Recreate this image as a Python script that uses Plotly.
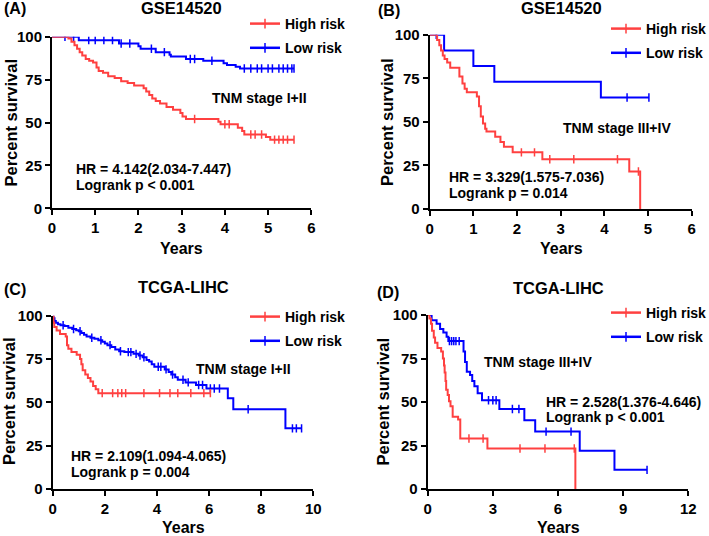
import plotly.graph_objects as go

W, H = 709, 536
RED = '#FF4040'
BLUE = '#0000FF'
FONT = 'Liberation Sans, Arial, sans-serif'

# ---------------- data (Kaplan-Meier steps: time in years, percent survival) ----------------
A_high_t = [0, 0.38, 0.45, 0.52, 0.58, 0.64, 0.70, 0.78, 0.86, 0.95, 1.03, 1.08, 1.18, 1.30, 1.45, 1.60, 1.75, 1.90,
            2.12, 2.18, 2.25, 2.32, 2.40, 2.50, 2.65, 2.80, 2.97, 3.02, 3.10, 3.85, 3.90, 4.30, 4.40, 4.45, 4.95, 5.05, 5.60]
A_high_s = [100, 99, 97, 95, 93, 91, 89, 87, 86, 85, 82, 80, 79, 77, 76, 74, 73, 71.5,
            70, 68, 66, 64, 62.5, 61, 59, 57.5, 55.5, 53.5, 52, 50.5, 49, 47, 45, 43, 41.5, 40, 40]
A_high_c = [3.3, 4.0, 4.1, 4.6, 4.7, 4.85, 5.15, 5.25, 5.35, 5.45, 5.6]

A_low_t = [0, 0.62, 1.55, 2.00, 2.05, 2.40, 2.72, 2.75, 3.10, 3.50, 3.97, 4.05, 4.25, 4.35, 5.60]
A_low_s = [100, 98, 96, 94.5, 93, 91, 89.5, 88.5, 87, 86, 84.5, 83.5, 82.5, 81.5, 81.5]
A_low_c = [0.3, 0.5, 0.85, 1.0, 1.2, 1.4, 1.6, 1.8, 2.3, 2.6, 3.2, 3.3, 3.7, 4.45, 4.6, 4.75, 4.85,
           5.0, 5.1, 5.25, 5.35, 5.45, 5.55, 5.6]

B_high_t = [0, 0.17, 0.22, 0.26, 0.30, 0.34, 0.40, 0.47, 0.68, 0.75, 0.80, 0.85, 1.08, 1.13, 1.17, 1.22, 1.27,
            1.30, 1.50, 1.62, 1.70, 1.90, 2.58, 4.57, 4.82]
B_high_s = [100, 97, 94, 91, 88, 86, 84, 81, 76, 72, 69, 67, 64.5, 59, 53, 49, 46,
            44.5, 41.5, 38.5, 35.7, 32.5, 28.5, 21.5, 0]
B_high_c = [2.1, 2.4, 2.75, 3.3, 4.3, 4.78]

B_low_t = [0, 0.33, 1.00, 1.48, 3.92, 5.02]
B_low_s = [100, 91, 82, 73, 64, 64]
B_low_c = [0.15, 4.52, 5.02]

C_high_t = [0, 0.03, 0.06, 0.15, 0.28, 0.50, 0.55, 0.60, 0.72, 0.92, 1.05, 1.10, 1.15, 1.25, 1.35, 1.45, 1.55,
            1.65, 1.75, 6.05]
C_high_s = [100, 96, 93.5, 91.5, 89.5, 88, 83, 81, 79, 77.5, 75, 72, 68.5, 66, 64, 62, 59.5,
            57.5, 55.3, 55.3]
C_high_c = [1.9, 2.3, 2.5, 2.65, 2.8, 3.5, 4.1, 4.5, 4.8, 5.3, 5.8, 6.05]

C_low_t = [0, 0.03, 0.07, 0.12, 0.20, 0.30, 0.45, 0.60, 0.75, 0.90, 1.00, 1.10, 1.20, 1.30, 1.45, 1.60, 1.75,
           1.90, 2.00, 2.10, 2.25, 2.40, 2.55, 2.75, 3.10, 3.30, 3.45, 3.60, 3.70, 3.80, 3.90, 4.30, 4.45,
           4.55, 4.70, 4.80, 5.10, 5.50, 5.90, 6.72, 6.93, 8.93, 9.55]
C_low_s = [100, 98.5, 97, 96, 95, 94.5, 94, 93, 92.3, 91.6, 91, 90, 89, 88, 87.3, 86.7, 85.8,
           85, 84, 83, 82, 80.5, 79.5, 79, 78, 77, 76, 74.5, 73.5, 72, 70.5, 69, 67.5,
           66, 64.5, 63, 61.5, 60, 58, 52.3, 46, 35, 35]
C_low_c = [0.4, 0.8, 1.05, 1.5, 1.85, 2.2, 2.6, 2.9, 3.0, 3.2, 3.35, 3.5, 4.05, 4.15, 4.35, 4.6, 5.0,
           5.2, 5.6, 5.75, 6.05, 6.2, 6.4, 7.5, 9.2, 9.35, 9.55]

D_high_t = [0, 0.08, 0.15, 0.20, 0.28, 0.34, 0.45, 0.62, 0.70, 0.75, 0.78, 0.82, 0.85, 0.92, 0.98, 1.05,
            1.15, 1.40, 1.50, 2.75, 6.80]
D_high_s = [100, 98, 95, 91, 87, 84, 81, 79, 75, 71, 67, 62, 57, 54, 50.5, 47.5,
            41.5, 40, 29, 23.3, 0]
D_high_c = [1.9, 2.55, 4.25, 5.4, 6.75]

D_low_t = [0, 0.18, 0.41, 0.57, 0.72, 0.87, 0.95, 1.65, 1.72, 1.80, 1.95, 2.05, 2.15, 2.30, 2.50, 3.30,
           4.45, 4.95, 7.00, 8.60, 10.10]
D_low_s = [100, 97, 95, 92, 90, 87.5, 85, 79, 73, 67.4, 65.5, 62, 59, 55, 51, 46,
           39.5, 33, 22, 11, 11]
D_low_c = [1.0, 1.1, 1.2, 1.3, 1.45, 2.8, 3.0, 3.15, 3.9, 4.2, 5.45, 6.6, 10.1]

series_names = ['High risk', 'Low risk']
x_ticks_A = [0, 1, 2, 3, 4, 5, 6]
x_ticks_B = [0, 1, 2, 3, 4, 5, 6]
x_ticks_C = [0, 2, 4, 6, 8, 10]
x_ticks_D = [0, 3, 6, 9, 12]
y_ticks = [0, 25, 50, 75, 100]

panels = [
    dict(label='(A)', title='GSE14520', stage='TNM stage I+II',
         hr='HR = 4.142(2.034-7.447)', p='Logrank p < 0.001', xticks=x_ticks_A,
         high=(A_high_t, A_high_s, A_high_c), low=(A_low_t, A_low_s, A_low_c),
         box=(52, 311.3, 36.7, 208.3), lab=(2, 9), tit=(181.5, 8.5), ylab=(10, 122.5), xlab=(181.5, 248),
         stg=(259, 98), hrp=(74, 168.5), pp=(74, 185), leg=(287, 24)),
    dict(label='(B)', title='GSE14520', stage='TNM stage III+IV',
         hr='HR = 3.329(1.575-7.036)', p='Logrank p = 0.014', xticks=x_ticks_B,
         high=(B_high_t, B_high_s, B_high_c), low=(B_low_t, B_low_s, B_low_c),
         box=(429.7, 691.7, 34.7, 209), lab=(376, 10.5), tit=(561, 7.5), ylab=(387, 122), xlab=(561, 248),
         stg=(617, 128), hrp=(447, 177), pp=(447, 193), leg=(648, 29)),
    dict(label='(C)', title='TCGA-LIHC', stage='TNM stage I+II',
         hr='HR = 2.109(1.094-4.065)', p='Logrank p = 0.004', xticks=x_ticks_C,
         high=(C_high_t, C_high_s, C_high_c), low=(C_low_t, C_low_s, C_low_c),
         box=(52.7, 313.3, 315.7, 489), lab=(2, 289), tit=(183, 287), ylab=(9, 401), xlab=(183, 527.5),
         stg=(243, 369), hrp=(69, 456), pp=(69, 471.5), leg=(287, 317)),
    dict(label='(D)', title='TCGA-LIHC', stage='TNM stage III+IV',
         hr='HR = 2.528(1.376-4.646)', p='Logrank p < 0.001', xticks=x_ticks_D,
         high=(D_high_t, D_high_s, D_high_c), low=(D_low_t, D_low_s, D_low_c),
         box=(427.7, 688.3, 315, 489), lab=(375, 292), tit=(558, 288), ylab=(382.5, 402), xlab=(558, 527.5),
         stg=(538, 362), hrp=(544, 402), pp=(544, 416.5), leg=(648, 313)),
]


def px(x):
    return x / W


def py(y):
    return 1 - y / H


def step_at(t, s, c):
    v = s[0]
    for ti, si in zip(t, s):
        if ti <= c:
            v = si
    return v


fig = go.Figure()
annotations = []
layout = {}
bold = dict(family=FONT, color='black', weight='bold')

for i, p in enumerate(panels):
    n = '' if i == 0 else str(i + 1)
    xa, ya = 'x' + n, 'y' + n
    leg = 'legend' + n
    x0, x1, y0, y1 = p['box']
    xt = p['xticks']
    layout['xaxis' + n] = dict(domain=[px(x0), px(x1)], range=[0, xt[-1]], tickvals=xt,
                               showline=True, linewidth=2, linecolor='black', ticks='outside',
                               ticklen=5, tickwidth=2, tickcolor='black', showgrid=False, zeroline=False,
                               tickfont=dict(size=15, **bold), anchor=ya, fixedrange=True)
    layout['yaxis' + n] = dict(domain=[py(y1), py(y0)], range=[0, 100], tickvals=y_ticks,
                               showline=True, linewidth=2, linecolor='black', ticks='outside',
                               ticklen=5, tickwidth=2, tickcolor='black', showgrid=False, zeroline=False,
                               tickfont=dict(size=15, **bold), anchor=xa, fixedrange=True)
    # curves: low drawn first, high on top
    for key, color, name in [('low', BLUE, series_names[1]), ('high', RED, series_names[0])]:
        t, s, c = p[key]
        fig.add_trace(go.Scatter(x=t, y=s, mode='lines', line=dict(color=color, width=2, shape='hv'),
                                 xaxis=xa, yaxis=ya, showlegend=False, hoverinfo='skip'))
        fig.add_trace(go.Scatter(x=c, y=[step_at(t, s, ci) for ci in c], mode='markers',
                                 marker=dict(symbol='line-ns', size=6, line=dict(width=1.5, color=color)),
                                 xaxis=xa, yaxis=ya, showlegend=False, hoverinfo='skip'))
    for color, name in [(RED, series_names[0]), (BLUE, series_names[1])]:
        fig.add_trace(go.Scatter(x=[None], y=[None], mode='lines+markers', name=name,
                                 line=dict(color=color, width=2.5),
                                 marker=dict(symbol='line-ns', size=7, line=dict(width=1.5, color=color)),
                                 xaxis=xa, yaxis=ya, legend=leg, legendgroup=name + str(i)))
    lx, ly = p['leg']
    layout[leg] = dict(x=px(lx - 42), y=py(ly - 16), xanchor='left', yanchor='top',
                       bgcolor='rgba(0,0,0,0)', borderwidth=0, tracegroupgap=3,
                       font=dict(size=14, **bold), itemclick=False, itemdoubleclick=False)

    def ann(text, pos, size, xanchor='center', angle=0):
        annotations.append(dict(text=text, x=px(pos[0]), y=py(pos[1]), xref='paper', yref='paper',
                                xanchor=xanchor, yanchor='middle', showarrow=False, textangle=angle,
                                font=dict(size=size, **bold)))

    ann(p['label'], p['lab'], 16, 'left')
    ann(p['title'], p['tit'], 16.5)
    ann('Percent survival', p['ylab'], 16.5, angle=-90)
    ann('Years', p['xlab'], 16)
    ann(p['stage'], p['stg'], 14)
    ann(p['hr'], p['hrp'], 14, 'left')
    ann(p['p'], p['pp'], 14, 'left')

fig.update_layout(width=W, height=H, margin=dict(l=0, r=0, t=0, b=0, pad=0, autoexpand=False),
                  paper_bgcolor='white', plot_bgcolor='white',
                  annotations=annotations, **layout)

fig.write_html('out.html', config={'displayModeBar': False, 'staticPlot': True},
               post_script="document.body.style.margin='0';document.body.style.overflow='hidden';")
